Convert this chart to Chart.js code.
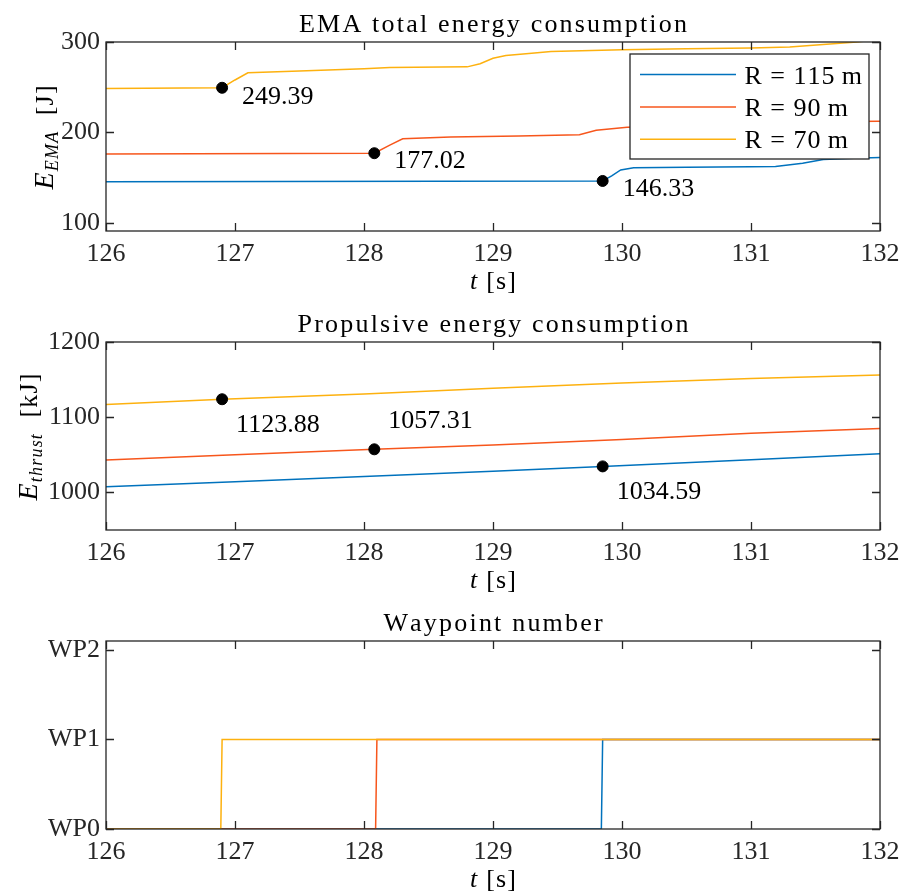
<!DOCTYPE html>
<html>
<head>
<meta charset="utf-8">
<script src="https://cdn.jsdelivr.net/npm/chart.js@4.4.1/dist/chart.umd.min.js"></script>
<style>
  body { margin: 0; background: #fff; }
  canvas { display: block; }
</style>
</head>
<body>
<canvas id="emaChart" width="903" height="300"></canvas>
<canvas id="thrustChart" width="903" height="300"></canvas>
<canvas id="wpChart" width="903" height="295"></canvas>
<script>
const seriesLabels = ['R = 115\u2009m', 'R = 90\u2009m', 'R = 70\u2009m'];
const colors = ['#0072BD', '#F7561C', '#FDB10F'];
const xTicks = [126, 127, 128, 129, 130, 131, 132];

// instant each radius reaches WP1, and the values marked there
const switchT = [129.85, 128.08, 126.9];
const emaMark = [146.33, 177.02, 249.39];
const thrustMark = [1034.59, 1057.31, 1123.88];

// EMA total energy [J]
const emaT115 = [126, 129.85, 129.92, 129.99, 130.09, 130.5, 131.0, 131.19, 131.4, 131.56, 131.8, 132];
const emaE115 = [145.4, 146.33, 152, 158.5, 161, 161.5, 162, 162.3, 166, 170, 171.5, 172.2];
const emaT90 = [126, 128.08, 128.2, 128.3, 128.67, 129.2, 129.67, 129.8, 130.04, 130.5, 131.0, 131.4, 131.7, 132];
const emaE90 = [176.2, 177.02, 186, 193, 195, 196, 197.5, 202.5, 205.7, 207, 208, 209.5, 212, 212.5];
const emaT70 = [126, 126.9, 127.0, 127.1, 127.5, 128.0, 128.2, 128.8, 128.9, 129.0, 129.1, 129.3, 129.45, 130.0, 130.5, 131.0, 131.3, 131.82, 132];
const emaE70 = [248.7, 249.39, 258, 266, 268, 270.5, 271.8, 272.5, 276, 282, 285, 287.5, 289.5, 291.5, 292.5, 293.5, 294.5, 300, 303];

// propulsive energy [kJ]
const thrT115 = [126, 127, 128, 129, 129.85, 131, 132];
const thrE115 = [1007.5, 1014, 1021, 1028, 1034.59, 1043.5, 1051.5];
const thrT90 = [126, 127, 128.08, 129, 130, 131, 132];
const thrE90 = [1043, 1050, 1057.31, 1063, 1070.5, 1078.5, 1085];
const thrT70 = [126, 126.9, 128, 129, 130, 131, 132];
const thrE70 = [1117, 1123.88, 1131, 1138.5, 1145.5, 1151.5, 1156];

// waypoint number
const wpTicks = ['WP0', 'WP1', 'WP2'];
const wpT115 = [126, 129.84, 129.85, 132];
const wpV115 = [0, 0, 1, 1];
const wpT90 = [126, 128.09, 128.1, 132];
const wpV90 = [0, 0, 1, 1];
const wpT70 = [126, 126.89, 126.9, 132];
const wpV70 = [0, 0, 1, 1];

const FONT = "'Liberation Serif', 'Times New Roman', serif";
const INK = '#262626';

const pts = (xs, ys) => xs.map((x, i) => ({ x: x, y: ys[i] }));

// text pieces drawn char by char so they can be spread a little (CM is wider than Times)
function textWidth(ctx, s, sp) {
  let w = 0;
  for (const c of s) w += ctx.measureText(c).width + sp;
  return w;
}

function drawRich(ctx, parts, cx, by, sp) {
  sp = sp || 0;
  let w = 0;
  parts.forEach(p => { ctx.font = p.font; p.w = textWidth(ctx, p.text, sp); w += p.w; });
  let px = cx - (w - sp) / 2;
  ctx.textAlign = 'left';
  ctx.textBaseline = 'alphabetic';
  parts.forEach(p => {
    ctx.font = p.font;
    for (const c of p.text) {
      ctx.fillText(c, px, by + (p.dy || 0));
      px += ctx.measureText(c).width + sp;
    }
  });
}

// matlab-ish box, inward ticks, titles, marker labels and legend
const matlabAxes = {
  id: 'matlabAxes',
  afterDraw(chart, args, o) {
    const { ctx, chartArea: a } = chart;
    const x = chart.scales.x, y = chart.scales.y;
    ctx.save();

    ctx.strokeStyle = INK;
    ctx.lineWidth = 1.3;
    ctx.beginPath();
    x.ticks.forEach(t => {
      const px = Math.round(x.getPixelForValue(t.value)) + 0.5;
      ctx.moveTo(px, a.bottom); ctx.lineTo(px, a.bottom - 8);
      ctx.moveTo(px, a.top); ctx.lineTo(px, a.top + 8);
    });
    y.ticks.forEach(t => {
      const py = Math.round(y.getPixelForValue(t.value)) + 0.5;
      ctx.moveTo(a.left, py); ctx.lineTo(a.left + 8, py);
      ctx.moveTo(a.right, py); ctx.lineTo(a.right - 8, py);
    });
    ctx.stroke();
    ctx.strokeRect(a.left, a.top, a.right - a.left, a.bottom - a.top);

    const cx = (a.left + a.right) / 2;
    ctx.fillStyle = '#000';
    drawRich(ctx, [{ text: o.title, font: '26px ' + FONT }], cx, a.top - 10.5, 2.2);

    drawRich(ctx, [
      { text: 't', font: 'italic 26px ' + FONT },
      { text: ' [s]', font: '26px ' + FONT }
    ], cx, a.bottom + 57.5, 1.2);

    if (o.ylabel) {
      ctx.save();
      ctx.translate(o.ylabel.x, (a.top + a.bottom) / 2 + 1);
      ctx.rotate(-Math.PI / 2);
      drawRich(ctx, [
        { text: 'E', font: 'italic 28px ' + FONT },
        { text: o.ylabel.sub, font: 'italic 18px ' + FONT, dy: 5 },
        { text: '  ' + o.ylabel.unit, font: '26px ' + FONT }
      ], 0, 0, 1.2);
      ctx.restore();
    }

    // labels next to the black markers
    const marks = chart.getDatasetMeta(3);
    ctx.font = '26px ' + FONT;
    ctx.textAlign = 'left';
    ctx.textBaseline = 'middle';
    (o.markOffsets || []).forEach((off, i) => {
      const el = marks.data[i];
      const v = chart.data.datasets[3].data[i].y;
      ctx.fillText(v.toFixed(2), el.x + off[0], el.y + off[1]);
    });

    if (o.legend) {
      const w = 239, h = 105;
      const lx = a.right - 11 - w, ly = a.top + 12;
      ctx.fillStyle = '#fff';
      ctx.fillRect(lx, ly, w, h);
      ctx.strokeStyle = INK;
      ctx.lineWidth = 1.3;
      ctx.strokeRect(lx, ly, w, h);
      chart.data.datasets.filter(d => d.label).forEach((d, i) => {
        const ry = ly + 20.5 + i * 32.4;
        ctx.strokeStyle = d.borderColor;
        ctx.lineWidth = 1.5;
        ctx.beginPath();
        ctx.moveTo(lx + 10, ry); ctx.lineTo(lx + 106, ry);
        ctx.stroke();
        ctx.fillStyle = '#000';
        ctx.font = '26px ' + FONT;
        const tw = textWidth(ctx, d.label, 1);
        drawRich(ctx, [{ text: d.label, font: '26px ' + FONT }], lx + 114 + tw / 2, ry + 9, 1);
      });
    }
    ctx.restore();
  }
};

function series(data, i) {
  return {
    label: seriesLabels[i],
    data: data,
    borderColor: colors[i],
    borderWidth: 1.5,
    pointRadius: 0,
    tension: 0,
    order: 3 - i
  };
}

function markers(ys) {
  return {
    data: pts(switchT, ys),
    showLine: false,
    pointRadius: 5.5,
    pointBackgroundColor: '#000',
    pointBorderColor: '#000',
    order: 0
  };
}

function makeChart(id, datasets, yMin, yMax, yTicks, canvasH, top, bottom, extra, yLabelCb) {
  return new Chart(document.getElementById(id), {
    type: 'line',
    data: { datasets: datasets },
    plugins: [matlabAxes],
    options: {
      responsive: false,
      animation: false,
      layout: { padding: { top: top, right: 23, left: 0, bottom: 0 } },
      scales: {
        x: {
          type: 'linear',
          min: 126,
          max: 132,
          afterBuildTicks: s => { s.ticks = xTicks.map(v => ({ value: v })); },
          afterFit: s => {
            s.height = canvasH - bottom;
            s.paddingLeft = 0;
            s.paddingRight = 0;
          },
          grid: { display: false, drawTicks: false },
          border: { display: false },
          ticks: { padding: 8, color: INK, font: { family: FONT, size: 26 }, maxRotation: 0 }
        },
        y: {
          min: yMin,
          max: yMax,
          afterBuildTicks: s => { s.ticks = yTicks.map(v => ({ value: v })); },
          afterFit: s => { s.width = 106; },
          grid: { display: false, drawTicks: false },
          border: { display: false },
          ticks: { padding: 6, color: INK, font: { family: FONT, size: 26 }, callback: yLabelCb || (v => v) }
        }
      },
      plugins: {
        legend: { display: false },
        tooltip: { enabled: false },
        matlabAxes: extra
      }
    }
  });
}

makeChart('emaChart', [
  series(pts(emaT115, emaE115), 0),
  series(pts(emaT90, emaE90), 1),
  series(pts(emaT70, emaE70), 2),
  markers(emaMark)
], 91, 300, [100, 200, 300], 300, 42, 231, {
  title: 'EMA total energy consumption',
  ylabel: { x: 53, sub: 'EMA', unit: '[J]' },
  markOffsets: [[20, 8], [20, 8], [20, 9]],
  legend: true
});

makeChart('thrustChart', [
  series(pts(thrT115, thrE115), 0),
  series(pts(thrT90, thrE90), 1),
  series(pts(thrT70, thrE70), 2),
  markers(thrustMark)
], 950, 1200, [1000, 1100, 1200], 300, 42, 230, {
  title: 'Propulsive energy consumption',
  ylabel: { x: 37, sub: 'thrust', unit: '[kJ]' },
  markOffsets: [[14, 26], [14, -28], [14, 26]]
});

makeChart('wpChart', [
  series(pts(wpT115, wpV115), 0),
  series(pts(wpT90, wpV90), 1),
  series(pts(wpT70, wpV70), 2)
], 0, 2.1, [0, 1, 2], 295, 41, 229, {
  title: 'Waypoint number'
}, v => wpTicks[v]);
</script>
</body>
</html>
